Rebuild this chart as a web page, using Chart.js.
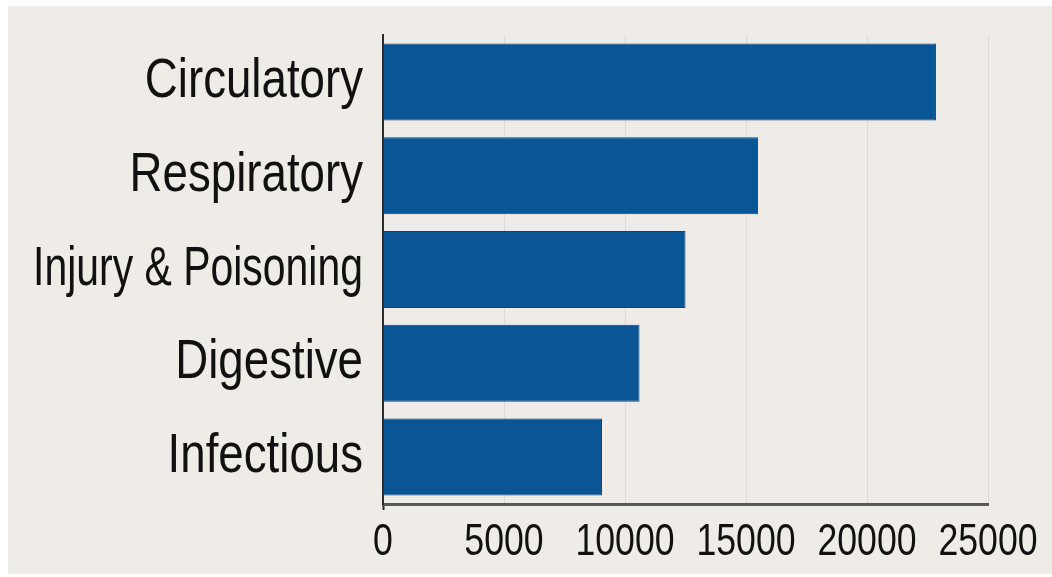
<!DOCTYPE html>
<html>
<head>
<meta charset="utf-8">
<script src="https://cdn.jsdelivr.net/npm/chart.js@4/dist/chart.umd.min.js"></script>
<style>
  html, body { margin: 0; padding: 0; background: #ffffff; }
  #frame {
    position: absolute;
    left: 8px; top: 6px;
    width: 1044px; height: 568px;
    background: #efebe7;
  }
</style>
</head>
<body>
<div id="frame"><canvas id="myChart" width="1044" height="568"></canvas></div>
<script>
/* data */
const categories = ['Circulatory', 'Respiratory', 'Injury & Poisoning', 'Digestive', 'Infectious'];
const admissions = [22850, 15500, 12500, 10600, 9050];
const tickValues = [0, 5000, 10000, 15000, 20000, 25000];

const labelFont = "'Liberation Sans', Arial, sans-serif";

// squeeze tick text horizontally (narrow grotesque look), long labels squeezed to fit
function condenseLabels(scale, ratio, maxWidth) {
  if (scale._condensed) return;
  scale._condensed = true;
  const draw = scale.drawLabels;
  scale.drawLabels = function (area) {
    const ctx = this.ctx;
    const fill = CanvasRenderingContext2D.prototype.fillText;
    ctx.fillText = function (text, x, y) {
      let r = ratio;
      if (maxWidth) r = Math.min(r, maxWidth / this.measureText(text).width);
      this.save();
      this.translate(x, y);
      this.scale(r, 1);
      fill.call(this, text, 0, 0);
      this.restore();
    };
    try { draw.call(this, area); } finally { delete ctx.fillText; }
  };
}

const narrowTicks = {
  id: 'narrowTicks',
  beforeDraw(chart) {
    condenseLabels(chart.scales.y, 0.83, 330);
    condenseLabels(chart.scales.x, 0.81);
  },
};

const data = {
  labels: categories,
  datasets: [{
    data: admissions,
    backgroundColor: '#0a5596',
    borderColor: '#08467f',
    borderWidth: 1,
    borderSkipped: 'start',
    barPercentage: 0.821,
    categoryPercentage: 1,
  }],
};

const config = {
  type: 'bar',
  data,
  plugins: [narrowTicks],
  options: {
    indexAxis: 'y',
    responsive: false,
    animation: false,
    layout: { padding: { top: 29, right: 64, left: 0, bottom: 0 } },
    plugins: {
      legend: { display: false },
      tooltip: { enabled: false },
    },
    scales: {
      x: {
        min: 0,
        max: 25000,
        afterBuildTicks: (axis) => {
          axis.ticks = tickValues.map(v => ({ value: v }));
        },
        afterFit: (axis) => {
          axis.height = 70;
          axis.paddingLeft = 0;
          axis.paddingRight = 0;
        },
        grid: {
          color: 'rgba(0, 0, 0, 0.07)',
          lineWidth: 1,
          drawTicks: true,
          tickLength: 6,
          tickColor: (ctx) => ctx.index === 0 ? '#2b2b2b' : 'rgba(0,0,0,0)',
          tickWidth: 2,
        },
        border: { color: '#585858', width: 3 },
        ticks: {
          color: '#111111',
          font: { family: labelFont, size: 44 },
          padding: 6,
          maxRotation: 0,
          autoSkip: false,
          callback: (v) => String(v),
        },
      },
      y: {
        afterFit: (axis) => {
          axis.width = 375;
          axis.paddingTop = 0;
          axis.paddingBottom = 0;
        },
        grid: { display: false, drawTicks: false },
        border: { color: '#2b2b2b', width: 2 },
        ticks: {
          color: '#111111',
          font: { family: labelFont, size: 55 },
          padding: 20,
        },
      },
    },
  },
};

document.addEventListener('DOMContentLoaded', () => {
  const canvas = document.getElementById('myChart');
  new Chart(canvas.getContext('2d'), config);
});
</script>
</body>
</html>
